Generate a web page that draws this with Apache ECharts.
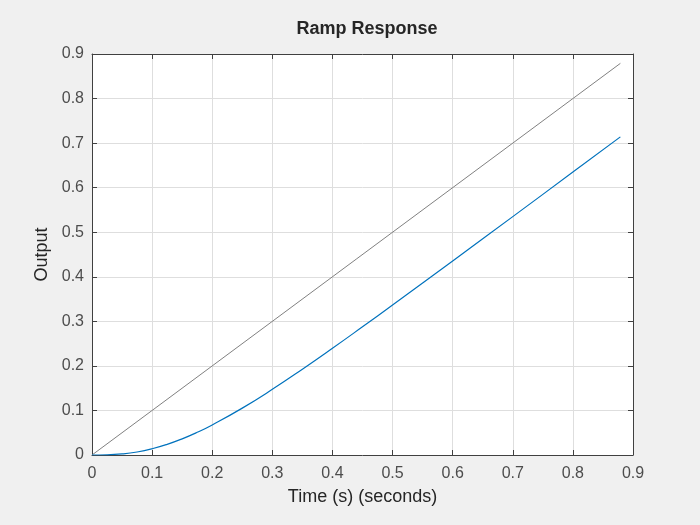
<!DOCTYPE html>
<html>
<head>
<meta charset="utf-8">
<script src="https://cdn.jsdelivr.net/npm/echarts@6/dist/echarts.min.js"></script>
<style>
  html, body { margin: 0; padding: 0; background: #f0f0f0; }
  #main { width: 700px; height: 525px; }
</style>
</head>
<body>
<div id="main"></div>
<script>
// ramp input (gray) and system output (blue)
var inputT = [0, 0.879];
var inputY = [0, 0.879];
var outT = [0, 0.025, 0.05, 0.075, 0.1, 0.125, 0.15, 0.175, 0.2, 0.25, 0.3, 0.35, 0.4, 0.45, 0.5, 0.6, 0.7, 0.8, 0.879];
var outY = [0, 0.0004, 0.0024, 0.0068, 0.014, 0.0239, 0.0363, 0.0509, 0.0675, 0.1052, 0.1473, 0.1925, 0.2395, 0.2877, 0.3365, 0.4355, 0.535, 0.635, 0.714];
var xTicks = [0, 0.1, 0.2, 0.3, 0.4, 0.5, 0.6, 0.7, 0.8, 0.9];
var yTicks = [0, 0.1, 0.2, 0.3, 0.4, 0.5, 0.6, 0.7, 0.8, 0.9];

function pairs(xs, ys) {
    return xs.map(function (x, i) { return [x, ys[i]]; });
}

var font = "'Liberation Sans', Arial, Helvetica, sans-serif";
var axisCol = '#404040';

function axisBase(show, ticks) {
    return {
        type: 'value',
        min: ticks[0],
        max: ticks[ticks.length - 1],
        interval: 0.1,
        axisLine: { show: true, onZero: false, lineStyle: { color: axisCol, width: 1 } },
        axisTick: { show: true, inside: true, length: 5, lineStyle: { color: axisCol } },
        axisLabel: {
            show: show,
            color: '#4d4d4d',
            fontFamily: font,
            fontSize: 16,
            formatter: function (v) { return String(+v.toFixed(1)); }
        },
        splitLine: { show: show, lineStyle: { color: '#dedede', width: 1 } }
    };
}

var dom = document.getElementById('main');
var myChart = echarts.init(dom);

var xBottom = axisBase(true, xTicks);
xBottom.position = 'bottom';
xBottom.name = 'Time (s) (seconds)';
xBottom.nameLocation = 'middle';
xBottom.nameGap = 33;
xBottom.nameTextStyle = { color: '#262626', fontFamily: font, fontSize: 18 };
xBottom.axisLabel.margin = 11;

var xTop = axisBase(false, xTicks);
xTop.position = 'top';

var yLeft = axisBase(true, yTicks);
yLeft.position = 'left';
yLeft.name = 'Output';
yLeft.nameLocation = 'middle';
yLeft.nameGap = 39;
yLeft.nameTextStyle = { color: '#262626', fontFamily: font, fontSize: 18 };
yLeft.axisLabel.margin = 8;

var yRight = axisBase(false, yTicks);
yRight.position = 'right';

var option = {
    backgroundColor: '#f0f0f0',
    animation: false,
    title: {
        text: 'Ramp Response',
        left: 362,
        top: 15,
        textAlign: 'center',
        textStyle: { color: '#262626', fontFamily: font, fontSize: 18, fontWeight: 'bold' }
    },
    grid: {
        left: 92,
        right: 67,
        top: 54,
        bottom: 70,
        show: true,
        backgroundColor: '#ffffff',
        borderWidth: 0
    },
    xAxis: [xBottom, xTop],
    yAxis: [yLeft, yRight],
    series: [
        {
            name: 'Input',
            type: 'line',
            data: pairs(inputT, inputY),
            showSymbol: false,
            lineStyle: { color: '#808080', width: 1 },
            z: 2
        },
        {
            name: 'Output',
            type: 'line',
            data: pairs(outT, outY),
            smooth: true,
            showSymbol: false,
            lineStyle: { color: '#0072bd', width: 1.2 },
            z: 3
        }
    ]
};

if (option && typeof option === 'object') {
    myChart.setOption(option, true);
}
</script>
</body>
</html>
